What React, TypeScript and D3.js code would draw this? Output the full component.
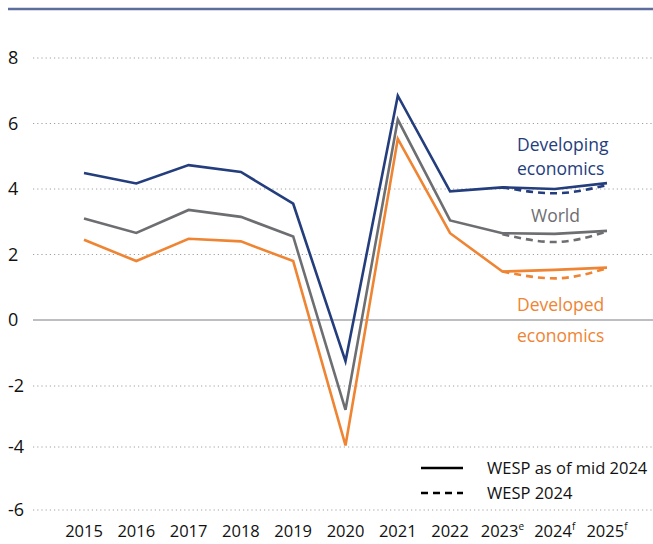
import * as d3 from "d3";
import React from "react";

const years = [2015, 2016, 2017, 2018, 2019, 2020, 2021, 2022, 2023, 2024, 2025];
const yearSup = ["", "", "", "", "", "", "", "", "e", "f", "f"];
const yTicks = [-6, -4, -2, 0, 2, 4, 6, 8];

// WESP as of mid 2024 (solid)
const developing = [4.49, 4.17, 4.73, 4.52, 3.55, -1.25, 6.85, 3.93, 4.05, 4.0, 4.18];
const world = [3.1, 2.66, 3.36, 3.15, 2.55, -2.78, 6.12, 3.04, 2.65, 2.63, 2.72];
const developed = [2.45, 1.8, 2.48, 2.4, 1.8, -3.95, 5.53, 2.65, 1.48, 1.53, 1.6];

// WESP 2024 (dashed), 2023-2025
const dashYears = [2023, 2024, 2025];
const developingOld = [4.05, 3.87, 4.12];
const worldOld = [2.62, 2.38, 2.7];
const developedOld = [1.48, 1.27, 1.58];

const NAVY = "#233d7d";
const GREY = "#6d6e71";
const ORANGE = "#ef8433";
const FONT = "'Open Sans', sans-serif";

export default function App() {
  const W = 653;
  const H = 544;

  const x = d3.scaleLinear().domain([2015, 2025]).range([84, 607]);
  const y = d3
    .scaleLinear()
    .domain([-6, -4, -2, 0, 8])
    .range([510, 447, 386, 320, 58]);

  const solid = d3
    .line<number>()
    .x((_, i) => x(years[i]))
    .y(d => y(d));

  const dashed = d3
    .line<number>()
    .x((_, i) => x(dashYears[i]))
    .y(d => y(d))
    .curve(d3.curveMonotoneX);

  const series = [
    { vals: developing, old: developingOld, color: NAVY },
    { vals: world, old: worldOld, color: GREY },
    { vals: developed, old: developedOld, color: ORANGE }
  ];

  return (
    <svg
      width={W}
      height={H}
      style={{ position: "absolute", left: 0, top: 0, background: "#fff" }}
      fontFamily={FONT}
    >
      <line x1={8} x2={W} y1={9} y2={9} stroke="#5d6d9c" strokeWidth={2.5} />

      {/* grid */}
      {yTicks.map(v => (
        <g key={v}>
          <line
            x1={33}
            x2={W}
            y1={y(v)}
            y2={y(v)}
            stroke={v === 0 ? "#a7a9ac" : "#a0a0a0"}
            strokeWidth={v === 0 ? 1.5 : 1}
            strokeDasharray={v === 0 ? undefined : "1.2,3"}
          />
          <text x={8} y={y(v)} dy="0.36em" fontSize={18} fill="#111">
            {v}
          </text>
        </g>
      ))}

      {/* x labels */}
      {years.map((yr, i) => (
        <text
          key={yr}
          x={x(yr)}
          y={537}
          fontSize={16.5}
          textAnchor="middle"
          fill="#111"
        >
          {yr}
          {yearSup[i] && (
            <tspan fontSize={10} dy={-7}>
              {yearSup[i]}
            </tspan>
          )}
        </text>
      ))}

      {/* lines */}
      {series.map((s, i) => (
        <g key={i} fill="none" stroke={s.color} strokeWidth={2.6}>
          <path d={dashed(s.old)!} strokeDasharray="7,5" />
          <path d={solid(s.vals)!} strokeLinejoin="miter" />
        </g>
      ))}

      {/* series labels */}
      <g fontSize={17.5}>
        <text x={517} y={151} fill={NAVY}>Developing</text>
        <text x={517} y={175} fill={NAVY}>economics</text>
        <text x={531} y={222} fill={GREY}>World</text>
        <text x={517} y={311} fill={ORANGE}>Developed</text>
        <text x={517} y={342} fill={ORANGE}>economics</text>
      </g>

      {/* legend */}
      <line x1={421} x2={463} y1={468} y2={468} stroke="#000" strokeWidth={2.5} />
      <text x={487} y={474} fontSize={16.5} fill="#111">WESP as of mid 2024</text>
      <line
        x1={421}
        x2={463}
        y1={493}
        y2={493}
        stroke="#000"
        strokeWidth={2.5}
        strokeDasharray="7,5"
      />
      <text x={487} y={499} fontSize={16.5} fill="#111">WESP 2024</text>
    </svg>
  );
}
